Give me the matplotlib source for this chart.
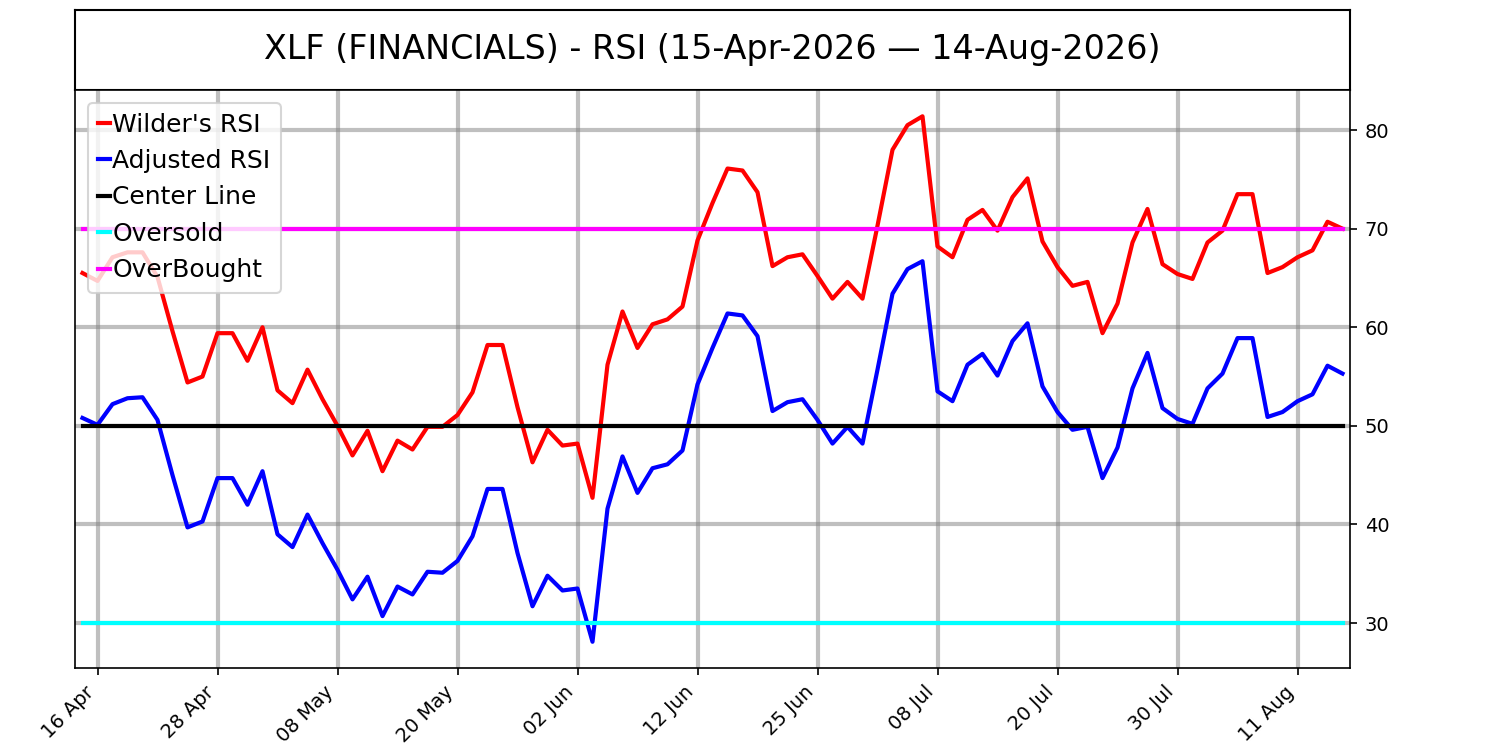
import numpy as np
import pandas as pd
import matplotlib
matplotlib.use('Agg')
import matplotlib.pyplot as plt

# trading days, market holidays removed
holidays = ['2026-05-25', '2026-06-19', '2026-07-03']
dates = pd.bdate_range('2026-04-15', '2026-08-14', freq='C', holidays=holidays)

wilder_rsi = [65.5, 64.7, 67.1, 67.6, 67.6, 65.1, 59.6, 54.4, 55.0, 59.4,
              59.4, 56.6, 60.0, 53.6, 52.3, 55.7, 52.7, 50.0, 47.0, 49.5,
              45.4, 48.5, 47.6, 49.9, 49.9, 51.1, 53.4, 58.2, 58.2, 51.9,
              46.3, 49.6, 48.0, 48.2, 42.7, 56.2, 61.6, 57.9, 60.3, 60.8,
              62.1, 68.8, 72.6, 76.1, 75.9, 73.7, 66.2, 67.1, 67.4, 65.2,
              62.9, 64.6, 62.9, 70.3, 78.0, 80.5, 81.4, 68.2, 67.1, 70.9,
              71.9, 69.8, 73.2, 75.1, 68.7, 66.1, 64.2, 64.6, 59.4, 62.4,
              68.6, 72.0, 66.4, 65.4, 64.9, 68.6, 69.8, 73.5, 73.5, 65.5,
              66.1, 67.1, 67.8, 70.7, 70.0]

adjusted_rsi = [50.8, 50.1, 52.2, 52.8, 52.9, 50.6, 45.0, 39.7, 40.3, 44.7,
                44.7, 42.0, 45.4, 39.0, 37.7, 41.0, 38.1, 35.4, 32.4, 34.7,
                30.7, 33.7, 32.9, 35.2, 35.1, 36.3, 38.8, 43.6, 43.6, 37.1,
                31.7, 34.8, 33.3, 33.5, 28.1, 41.6, 46.9, 43.2, 45.7, 46.1,
                47.5, 54.2, 57.9, 61.4, 61.2, 59.1, 51.5, 52.4, 52.7, 50.6,
                48.2, 49.9, 48.2, 55.7, 63.4, 65.9, 66.7, 53.5, 52.5, 56.2,
                57.3, 55.1, 58.6, 60.4, 54.0, 51.4, 49.6, 49.9, 44.7, 47.8,
                53.8, 57.4, 51.8, 50.7, 50.2, 53.8, 55.3, 58.9, 58.9, 50.9,
                51.4, 52.5, 53.2, 56.1, 55.3]

center_level = 50
oversold_level = 30
overbought_level = 70
title = 'XLF (FINANCIALS) - RSI (15-Apr-2026 \u2014 14-Aug-2026)'

x = np.arange(len(dates))
n = len(x)

fig = plt.figure(figsize=(15, 7.5), dpi=100)

# title box on top
tax = fig.add_axes([0.05, 0.88, 0.85, 0.1067])
tax.set_xticks([])
tax.set_yticks([])
for s in tax.spines.values():
    s.set_linewidth(1.5)
tax.text(0.5, 0.5, title, ha='center', va='center', fontsize=24,
         transform=tax.transAxes)

ax = fig.add_axes([0.05, 0.1093, 0.85, 0.7707])
lw = 3
ax.plot(x, wilder_rsi, color='red', lw=lw, label="Wilder's RSI")
ax.plot(x, adjusted_rsi, color='blue', lw=lw, label='Adjusted RSI')
ax.plot(x, [center_level] * n, color='black', lw=lw, label='Center Line')
ax.plot(x, [oversold_level] * n, color='cyan', lw=lw, label='Oversold')
ax.plot(x, [overbought_level] * n, color='magenta', lw=lw, label='OverBought')

ax.set_xlim(-0.5, n - 0.5)
ax.yaxis.tick_right()
ax.set_yticks([30, 40, 50, 60, 70, 80])

tick_idx = x[1::8]
ax.set_xticks(tick_idx)
ax.set_xticklabels([dates[i].strftime('%d %b') for i in tick_idx],
                   rotation=45, ha='right')
ax.tick_params(axis='both', length=5.25, width=1.2, pad=5.25, labelsize=14)

ax.grid(True, color='gray', alpha=0.5, lw=3)
ax.set_axisbelow(True)
for s in ax.spines.values():
    s.set_linewidth(1.2)

leg = ax.legend(loc='upper left', fontsize=18, handlelength=0.5,
                handletextpad=0.1)
leg.get_frame().set_linewidth(1.5)

fig.savefig('out.png', dpi=100)
